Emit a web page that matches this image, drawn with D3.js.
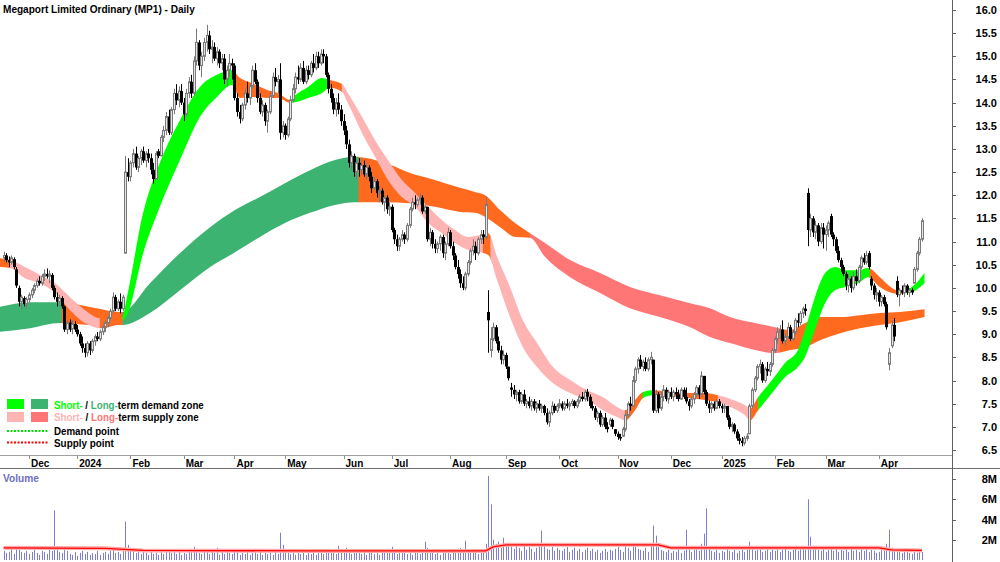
<!DOCTYPE html>
<html><head><meta charset="utf-8">
<script src="https://cdn.jsdelivr.net/npm/d3@7"></script>
<style>
body{margin:0;background:#fff}
svg{display:block}
text{font-family:"Liberation Sans",Arial,sans-serif;font-weight:bold}
</style>
</head><body>
<svg id="c" width="1000" height="562"></svg>
<script>
// ---------------- DATA ----------------
const startDate = "2023-11-17";
const holidays = ["2023-12-25","2023-12-26","2024-01-01","2024-01-26","2024-03-29","2024-04-01","2024-04-25","2024-06-10","2024-12-25","2024-12-26","2025-01-01","2025-01-27","2025-04-18","2025-04-21","2025-04-25"];
const monthNames = ["Jan","Feb","Mar","Apr","May","Jun","Jul","Aug","Sep","Oct","Nov","Dec"];
const priceTicks = [6.5,7.0,7.5,8.0,8.5,9.0,9.5,10.0,10.5,11.0,11.5,12.0,12.5,13.0,13.5,14.0,14.5,15.0,15.5,16.0];
const volumeTicks = [2,4,6,8];

const openP = [
10.65,10.70,10.60,10.55,10.62,10.40,10.00,9.70,9.78,9.65,
9.75,9.85,9.95,10.05,10.15,10.10,10.25,10.30,10.25,10.28,
10.00,9.80,9.70,9.78,9.60,9.10,9.25,9.12,9.22,9.10,
9.00,8.80,8.70,8.60,8.80,8.65,8.85,8.95,8.90,9.05,
9.15,9.25,9.35,9.50,9.80,9.55,9.70,9.55,10.75,12.50,
12.40,12.70,12.90,12.60,12.80,12.95,12.75,12.90,12.80,12.55,
12.35,12.95,12.85,13.25,13.40,13.70,13.35,13.85,14.20,14.05,
14.25,14.00,13.75,14.20,14.45,14.20,14.90,15.30,14.80,15.00,
15.30,15.45,15.15,15.20,14.95,15.10,14.85,14.95,14.50,14.70,
14.85,14.80,14.10,13.80,13.65,13.95,14.20,14.10,14.35,14.70,
14.45,14.10,13.80,13.95,13.60,13.80,14.15,14.55,14.45,14.50,
13.35,13.50,13.30,13.65,14.05,14.30,14.55,14.50,14.75,14.45,
14.70,14.60,14.85,14.75,15.00,14.85,15.05,15.00,14.60,14.30,
14.10,13.85,14.00,13.85,13.60,13.40,13.10,12.70,12.85,12.50,
12.70,12.55,12.65,12.45,12.60,12.40,12.15,12.30,12.05,12.10,
11.85,11.95,11.70,11.75,11.25,11.05,10.90,11.05,11.15,11.05,
11.35,11.70,11.85,11.80,11.90,11.95,11.65,11.75,11.05,11.20,
10.95,10.85,10.95,11.10,10.75,10.95,11.20,10.90,10.70,10.45,
10.30,10.10,10.00,10.30,10.55,10.80,10.90,10.75,11.05,11.15,
11.10,9.48,8.65,8.90,9.15,8.85,8.65,8.45,8.55,8.30,
7.85,7.80,7.70,7.75,7.55,7.70,7.50,7.55,7.45,7.55,
7.40,7.50,7.40,7.45,7.30,7.10,7.30,7.45,7.35,7.45,
7.50,7.40,7.50,7.45,7.50,7.55,7.45,7.55,7.65,7.60,
7.75,7.65,7.45,7.40,7.20,7.30,7.05,7.20,7.00,7.05,
7.15,6.95,6.85,6.78,6.80,6.95,7.25,7.50,7.45,8.00,
8.25,8.45,8.30,8.40,8.25,8.45,8.45,7.35,7.70,7.40,
7.65,7.80,7.60,7.75,7.65,7.75,7.70,7.60,7.80,7.65,
7.55,7.45,7.60,7.70,7.85,7.70,8.10,7.75,7.50,7.40,
7.50,7.40,7.55,7.45,7.40,7.45,7.20,7.00,7.05,6.90,
6.75,6.70,6.65,6.75,6.85,7.45,7.80,8.05,8.30,8.35,
8.00,8.25,8.20,8.35,8.65,8.90,9.05,9.10,8.85,8.95,
9.15,8.90,9.05,9.30,9.25,9.45,9.55,12.05,11.25,11.50,
11.20,11.35,11.00,11.30,11.15,11.25,11.55,11.15,11.05,10.80,
10.60,10.45,10.30,10.05,10.20,10.00,10.25,10.15,10.45,10.65,
10.55,10.75,10.20,10.05,9.85,9.90,9.70,9.80,9.65,8.35,
8.75,9.20,10.15,9.85,9.95,9.90,10.05,9.90,9.95,10.10,
10.40,10.75,11.05];

const highP = [
10.78,10.75,10.68,10.70,10.66,10.45,10.05,9.85,9.82,9.80,
9.90,10.00,10.10,10.20,10.25,10.30,10.40,10.42,10.38,10.32,
10.05,9.90,9.85,9.82,9.62,9.30,9.32,9.30,9.28,9.20,
9.05,8.95,8.80,8.85,8.85,8.90,9.00,9.05,9.10,9.20,
9.30,9.40,9.55,9.90,9.85,9.75,9.88,9.85,12.85,12.80,
12.75,13.00,13.05,12.85,13.00,13.05,12.95,13.00,12.90,12.70,
12.95,13.00,13.30,13.50,13.80,13.85,13.90,14.30,14.40,14.35,
14.40,14.10,14.30,14.55,14.60,15.00,15.60,15.35,15.10,15.40,
15.68,15.55,15.35,15.30,15.20,15.15,15.05,15.05,14.80,15.05,
14.95,14.85,14.20,13.95,14.00,14.30,14.45,14.40,14.80,14.85,
14.50,14.20,14.05,14.00,13.85,14.25,14.65,14.75,14.60,14.85,
13.60,13.55,13.70,14.15,14.40,14.65,14.80,14.85,14.90,14.80,
14.80,14.90,15.05,15.10,15.10,15.15,15.15,15.05,14.65,14.40,
14.20,14.10,14.20,13.95,13.75,13.50,13.20,12.95,12.90,12.75,
12.80,12.80,12.75,12.70,12.65,12.50,12.40,12.35,12.20,12.15,
12.00,12.00,11.85,11.80,11.30,11.15,11.10,11.25,11.20,11.40,
11.75,11.95,12.00,11.95,12.05,12.00,11.80,11.75,11.30,11.25,
11.05,11.00,11.15,11.15,11.00,11.30,11.25,11.00,10.75,10.60,
10.40,10.25,10.35,10.60,10.85,11.05,11.00,11.10,11.25,11.25,
11.97,9.95,9.15,9.25,9.20,8.95,8.75,8.65,8.60,8.30,
7.95,7.90,7.80,7.80,7.75,7.80,7.60,7.65,7.60,7.60,
7.55,7.58,7.50,7.48,7.40,7.35,7.55,7.50,7.50,7.60,
7.55,7.55,7.60,7.55,7.60,7.58,7.60,7.70,7.75,7.80,
7.82,7.70,7.55,7.45,7.35,7.35,7.25,7.30,7.10,7.20,
7.18,6.95,6.90,6.85,7.00,7.30,7.55,7.65,8.10,8.30,
8.50,8.55,8.45,8.50,8.50,8.62,8.45,7.80,7.75,7.75,
7.90,7.85,7.80,7.85,7.80,7.85,7.80,7.85,7.85,7.85,
7.60,7.65,7.75,7.90,7.90,8.20,8.10,7.80,7.57,7.55,
7.55,7.60,7.60,7.50,7.50,7.45,7.25,7.10,7.08,6.95,
6.85,6.78,6.80,6.86,7.50,7.85,8.10,8.35,8.45,8.40,
8.30,8.40,8.40,8.70,8.95,9.15,9.20,9.30,9.00,9.25,
9.20,9.10,9.35,9.45,9.50,9.60,9.65,12.15,11.60,11.55,
11.45,11.40,11.40,11.40,11.35,11.45,11.60,11.20,11.10,10.90,
10.65,10.50,10.35,10.30,10.25,10.35,10.40,10.50,10.70,10.75,
10.80,10.80,10.25,10.10,10.00,9.95,9.85,9.85,9.70,8.70,
9.30,9.35,10.25,10.00,10.05,10.10,10.08,10.00,10.00,10.45,
10.80,11.10,11.50];

const lowP = [
10.55,10.55,10.45,10.50,10.40,10.00,9.60,9.55,9.60,9.55,
9.68,9.78,9.88,10.00,10.05,10.05,10.15,10.20,10.10,9.95,
9.75,9.60,9.62,9.55,9.05,9.00,9.05,9.00,9.05,8.95,
8.75,8.60,8.50,8.52,8.55,8.60,8.75,8.85,8.85,8.98,
9.05,9.15,9.30,9.45,9.50,9.50,9.45,9.50,10.75,12.30,
12.30,12.60,12.55,12.50,12.65,12.70,12.60,12.70,12.45,12.25,
12.35,12.80,12.85,13.15,13.30,13.30,13.30,13.75,13.95,13.90,
13.95,13.60,13.70,14.10,14.10,14.15,14.80,14.70,14.55,14.90,
15.10,15.05,14.85,14.90,14.80,14.75,14.70,14.40,14.35,14.55,
14.50,14.05,13.70,13.55,13.60,13.85,14.00,13.95,14.30,14.40,
14.00,13.75,13.70,13.50,13.35,13.75,14.10,14.35,14.20,13.20,
13.25,13.20,13.25,13.60,14.00,14.20,14.40,14.45,14.40,14.40,
14.50,14.55,14.65,14.70,14.75,14.80,14.85,14.55,14.20,14.00,
13.75,13.70,13.75,13.50,13.30,13.00,12.60,12.55,12.40,12.35,
12.40,12.45,12.40,12.35,12.30,12.05,12.10,11.95,11.85,11.80,
11.65,11.60,11.55,11.20,10.95,10.80,10.80,11.00,10.95,11.00,
11.30,11.65,11.70,11.75,11.80,11.60,11.60,11.00,10.90,10.85,
10.75,10.75,10.80,10.65,10.60,10.90,10.85,10.60,10.40,10.20,
10.00,9.95,9.95,10.25,10.50,10.70,10.60,10.70,10.95,10.95,
11.05,8.60,8.50,8.85,8.80,8.60,8.35,8.35,8.25,8.00,
7.65,7.60,7.55,7.50,7.50,7.45,7.40,7.40,7.35,7.35,
7.30,7.35,7.30,7.25,7.05,7.00,7.25,7.30,7.30,7.40,
7.35,7.35,7.40,7.35,7.45,7.40,7.40,7.50,7.55,7.55,
7.55,7.40,7.35,7.15,7.10,7.00,7.00,6.95,6.88,7.00,
6.95,6.80,6.72,6.70,6.78,6.90,7.20,7.35,7.45,7.95,
8.15,8.25,8.20,8.20,8.20,8.35,7.30,7.30,7.30,7.35,
7.55,7.55,7.50,7.60,7.55,7.60,7.55,7.58,7.60,7.50,
7.35,7.40,7.50,7.65,7.60,7.65,7.70,7.45,7.30,7.30,
7.35,7.38,7.40,7.30,7.30,7.15,6.95,6.88,6.85,6.70,
6.62,6.58,6.60,6.70,6.85,7.40,7.75,8.00,8.15,7.95,
7.95,8.10,8.10,8.30,8.60,8.80,8.90,8.80,8.75,8.90,
8.85,8.85,9.00,9.15,9.20,9.35,9.40,10.90,11.10,11.10,
11.05,10.90,10.95,10.85,10.80,11.10,11.10,10.90,10.75,10.55,
10.35,10.25,9.95,9.90,9.90,9.95,10.05,10.10,10.40,10.50,
10.50,10.40,9.95,9.75,9.70,9.60,9.60,9.60,9.10,8.22,
8.70,8.85,9.80,9.60,9.85,9.80,9.85,9.80,9.85,10.10,
10.35,10.70,11.00];

const closeP = [
10.70,10.60,10.55,10.65,10.45,10.05,9.70,9.80,9.65,9.75,
9.85,9.95,10.05,10.15,10.10,10.25,10.30,10.25,10.30,10.00,
9.80,9.70,9.78,9.60,9.10,9.25,9.10,9.22,9.10,9.00,
8.80,8.70,8.60,8.80,8.65,8.85,8.95,8.90,9.05,9.15,
9.25,9.35,9.50,9.80,9.55,9.70,9.55,9.80,12.50,12.40,
12.70,12.90,12.60,12.80,12.95,12.75,12.90,12.80,12.55,12.35,
12.90,12.85,13.25,13.40,13.70,13.35,13.85,14.20,14.05,14.25,
14.00,13.75,14.20,14.45,14.20,14.90,15.30,14.80,15.00,15.30,
15.45,15.15,15.20,14.95,15.10,14.85,14.95,14.50,14.70,14.85,
14.80,14.10,13.80,13.65,13.95,14.20,14.10,14.35,14.70,14.45,
14.10,13.80,13.95,13.60,13.80,14.15,14.55,14.45,14.50,13.35,
13.50,13.30,13.65,14.05,14.30,14.55,14.50,14.75,14.45,14.70,
14.60,14.85,14.75,15.00,14.85,15.05,15.00,14.60,14.30,14.10,
13.85,14.00,13.85,13.60,13.40,13.10,12.70,12.85,12.50,12.70,
12.55,12.65,12.45,12.60,12.40,12.15,12.30,12.05,12.10,11.85,
11.95,11.70,11.75,11.25,11.05,10.90,11.05,11.15,11.05,11.35,
11.70,11.85,11.80,11.90,11.95,11.65,11.75,11.05,11.20,10.95,
10.85,10.95,11.10,10.75,10.95,11.20,10.90,10.70,10.45,10.30,
10.10,10.00,10.30,10.55,10.80,10.90,10.75,11.05,11.15,11.10,
11.80,9.30,8.90,9.15,8.85,8.65,8.45,8.55,8.30,8.05,
7.80,7.70,7.75,7.55,7.70,7.50,7.55,7.45,7.55,7.40,
7.50,7.40,7.45,7.30,7.10,7.30,7.45,7.35,7.45,7.50,
7.40,7.50,7.45,7.50,7.55,7.45,7.55,7.65,7.60,7.75,
7.65,7.45,7.40,7.20,7.30,7.05,7.20,7.00,6.95,7.15,
7.00,6.85,6.78,6.75,6.95,7.25,7.50,7.45,8.00,8.25,
8.45,8.30,8.40,8.25,8.45,8.50,7.35,7.70,7.40,7.65,
7.80,7.60,7.75,7.65,7.75,7.70,7.60,7.80,7.65,7.55,
7.45,7.60,7.70,7.85,7.70,8.10,7.75,7.50,7.40,7.50,
7.40,7.55,7.45,7.40,7.45,7.20,7.00,7.05,6.90,6.75,
6.70,6.65,6.75,6.80,7.45,7.80,8.05,8.30,8.35,8.00,
8.25,8.20,8.35,8.65,8.90,9.05,9.10,8.85,8.95,9.15,
8.90,9.05,9.30,9.25,9.45,9.55,9.50,11.25,11.50,11.20,
11.35,11.00,11.30,11.15,11.25,11.40,11.15,11.05,10.80,10.60,
10.45,10.30,10.05,10.20,10.00,10.25,10.15,10.45,10.65,10.55,
10.70,10.45,10.05,9.85,9.90,9.70,9.80,9.65,9.15,8.60,
9.20,8.95,9.85,9.95,9.90,10.05,9.90,9.95,9.90,10.40,
10.75,11.05,11.45];

// daily volume, millions
const volumeM = [
0.9,0.7,0.8,1.1,0.6,1.2,1.0,0.8,0.7,0.9,
0.6,0.8,1.0,0.7,0.5,0.9,0.8,0.6,1.1,0.9,
4.9,1.0,0.8,0.7,1.3,0.9,0.6,0.5,0.8,0.4,
0.7,0.9,0.6,0.8,0.5,0.7,0.6,0.9,0.5,0.7,
0.8,0.6,0.9,1.0,0.7,0.8,0.6,0.9,3.8,1.5,
1.2,0.9,0.7,0.8,0.6,0.9,0.7,0.5,0.8,0.6,
0.7,0.5,0.9,0.6,0.8,1.0,0.7,0.9,0.6,0.8,
0.5,0.7,0.6,1.1,0.8,1.3,0.9,0.7,0.6,1.0,
0.8,0.6,0.9,0.7,1.2,0.5,0.8,0.6,0.9,0.7,
0.6,0.9,0.8,0.5,0.7,0.6,0.8,0.5,0.7,0.9,
0.6,0.8,0.5,0.7,0.6,0.9,0.5,0.8,0.6,2.7,
1.5,0.9,0.7,0.6,0.8,0.5,0.7,0.6,0.9,0.5,
0.7,0.6,0.8,0.5,0.9,0.7,0.6,0.8,1.1,0.7,
0.9,0.6,1.4,0.8,0.7,1.2,0.9,0.6,1.0,0.7,
0.8,0.6,0.9,0.5,0.7,1.0,0.6,0.8,0.5,0.9,
0.7,1.1,0.8,1.3,0.9,0.6,0.8,0.7,1.0,0.6,
0.8,0.5,0.7,0.9,0.6,1.0,1.8,1.2,0.8,0.7,
0.6,0.9,0.5,0.8,1.1,0.7,0.6,0.9,1.0,0.8,
1.2,0.9,1.9,1.0,0.8,0.7,0.9,0.6,0.8,1.1,
1.6,8.3,5.5,2.0,1.6,1.8,1.2,2.2,1.4,1.7,
1.3,1.1,1.5,1.2,0.9,1.4,1.0,1.3,1.1,0.8,
1.2,1.5,2.9,1.4,1.1,1.0,1.3,0.9,1.2,1.0,
0.9,1.1,1.3,0.8,1.0,1.2,0.9,1.1,0.8,1.0,
1.2,0.9,1.1,0.8,1.0,0.7,0.9,1.1,0.8,1.0,
0.9,1.1,1.3,1.0,0.8,1.4,1.2,0.9,1.6,1.3,
1.1,1.0,0.9,1.2,0.8,1.5,3.4,2.4,1.3,1.0,
0.9,0.8,1.0,0.7,0.9,0.8,1.1,0.7,0.9,3.0,
1.2,0.8,1.0,1.3,0.9,1.6,2.6,5.1,1.2,0.9,
0.8,1.0,0.7,0.9,0.8,1.1,0.9,0.8,1.0,0.7,
0.9,1.0,0.8,1.2,1.8,1.1,0.9,1.0,1.2,0.8,
0.9,1.1,0.8,1.0,0.9,1.2,0.8,1.0,1.1,0.9,
0.8,1.0,1.2,0.9,1.1,1.3,1.0,6.0,2.3,1.4,
1.2,1.0,0.9,1.3,0.8,1.0,1.1,0.9,1.2,0.8,
1.0,0.9,1.1,0.8,1.3,0.9,1.0,0.8,1.2,0.9,
1.1,0.8,1.0,0.9,0.7,0.8,1.0,0.9,1.6,3.0,
1.2,1.0,1.1,0.8,0.7,0.9,0.8,0.7,0.6,0.8,
0.7,0.9,0.8];

// volume average line (read at sample days), millions
const volAvgDay = [0,40,55,120,190,193,198,258,263,345,350,362];
const volAvgM   = [1.2,1.15,0.95,0.9,0.9,1.3,1.5,1.5,1.2,1.2,1.0,0.95];

// long-term zone edges (sample day index, top, bottom)
const longDay = [-1.5,10.4,22.2,34,46.7,57.7,69.5,81.4,91.2,101,110.9,120.8,130.6,138.5,150.3,160.2,170,179.9,185.8,189.8,195.7,201.6,207.5,213.4,223.3,235.1,246.9,258.7,270.6,278.4,286.3,296.2,304,310,315.9,321.8,329.7,337.6,345.4,353.3,363];
const longTop = [9.59,9.69,9.69,9.59,9.48,10.10,10.75,11.31,11.68,11.96,12.26,12.54,12.76,12.83,12.70,12.48,12.33,12.16,12.07,12.00,11.68,11.40,11.18,10.97,10.60,10.32,10.02,9.84,9.67,9.56,9.37,9.24,9.15,9.09,9.24,9.37,9.37,9.41,9.46,9.48,9.54];
const longBot = [9.05,9.13,9.24,9.20,9.20,9.46,9.95,10.45,10.77,11.10,11.40,11.62,11.79,11.85,11.85,11.83,11.75,11.64,11.62,11.53,11.31,11.10,11.08,10.67,10.23,9.89,9.56,9.37,9.15,8.94,8.81,8.66,8.59,8.66,8.72,8.87,9.02,9.13,9.20,9.26,9.37];
const longStateFrom = [-2,23,47,140,207.5,306];
const longState = ["demand","neutral","demand","neutral","supply","neutral"];

// short-term zone edges
const shortDay = [-1.5,2.5,8.4,14.3,20.3,26.2,32.1,38,42.7,46.7,48.6,55,61.6,69.5,77.4,84.1,90,93.2,98,104.2,108.2,112.9,114.9,120,125.5,128.6,133.4,135.7,141.3,146.4,151.5,157,162.2,167.3,172.8,177.9,183,187.8,191,194.5,199.6,204.7,210.3,216.6,223.3,230,236.3,241.8,245,248.9,252,256,262.7,270.6,276.5,281.6,287.5,292.2,294.2,297.4,302.9,308,313.1,315.9,319.8,323.8,327.7,331.7,336.8,340.7,345.4,350.2,353.3,358,363];
const shortTop = [10.64,10.60,10.45,10.28,10.10,9.80,9.52,9.35,9.35,9.36,9.80,11.62,12.70,13.62,14.34,14.60,14.70,14.53,14.42,14.27,14.21,14.06,14.16,14.34,14.53,14.49,14.40,14.21,13.69,13.19,12.76,12.33,12.05,11.75,11.46,11.25,11.10,11.14,11.18,10.67,10.02,9.30,8.81,8.29,8.01,7.79,7.64,7.43,7.36,7.58,7.75,7.79,7.75,7.73,7.73,7.68,7.58,7.47,7.40,7.64,8.01,8.38,8.66,9.09,9.80,10.32,10.45,10.38,10.38,10.43,10.23,10.00,9.93,10.02,10.32];
const shortBot = [10.45,10.43,10.21,10.10,9.89,9.52,9.24,9.13,9.17,9.28,9.40,10.75,11.75,12.76,13.69,14.12,14.38,14.10,14.12,14.10,14.10,14.00,14.01,14.10,14.21,14.32,14.23,13.99,13.34,12.83,12.33,11.96,11.75,11.40,11.18,10.97,10.82,10.77,10.71,10.17,9.37,8.72,8.29,7.94,7.73,7.58,7.36,7.21,7.14,7.36,7.62,7.68,7.66,7.62,7.58,7.53,7.40,7.25,7.14,7.36,7.73,8.07,8.29,8.51,9.09,9.67,9.95,10.02,10.10,10.23,10.02,9.89,9.87,9.91,10.10];
const shortStateFrom = [-2,2.5,38,47,90.5,113,128.6,133.4,189,192,245,252,256,281.6,294,297.5,341.5,355];
const shortState = ["neutral","supply","neutral","demand","neutral","demand","neutral","supply","neutral","supply","neutral","demand","neutral","supply","neutral","demand","neutral","demand"];

// ---------------- CHART ----------------
const svg = d3.select("#c");
const defs = svg.append("defs");
const N = closeP.length;

// trading days
const hol = new Set(holidays);
const dates = [];
{
  const d = new Date(startDate + "T00:00:00Z");
  while (dates.length < N) {
    const wd = d.getUTCDay(), s = d.toISOString().slice(0,10);
    if (wd !== 0 && wd !== 6 && !hol.has(s)) dates.push(new Date(d));
    d.setUTCDate(d.getUTCDate() + 1);
  }
}

const x = d3.scaleLinear().domain([0, N-1]).range([3.6, 3.6 + (N-1)*2.537]);
const y = d3.scaleLinear().domain([6.5, 16]).range([450, 10]);
const yv = d3.scaleLinear().domain([0, 8]).range([560, 479]);

const zoneColor = {
  short: {demand:"#00ff00", supply:"#ffb4b4", neutral:"#ff6a1e"},
  long:  {demand:"#3cb371", supply:"#ff7676", neutral:"#ff6a1e"}
};

const bandG = svg.append("g");
let clipId = 0;
function drawZone(kind, days, top, bot, from, states) {
  const pts = days.map((v,k)=>({i:v, t:top[k], b:bot[k]}));
  const area = d3.area().x(d=>x(d.i)).y0(d=>y(d.b)).y1(d=>y(d.t)).curve(d3.curveMonotoneX);
  const dPath = area(pts);
  from.forEach((s,k)=>{
    const e = k < from.length-1 ? from[k+1] : 365;
    const id = "clp" + (clipId++);
    const x0 = x(s), x1 = x(e);
    defs.append("clipPath").attr("id", id).append("rect")
      .attr("x", x0 - 0.25).attr("y", 0).attr("width", x1 - x0 + 0.5).attr("height", 455);
    bandG.append("path").attr("d", dPath)
      .attr("fill", zoneColor[kind][states[k]])
      .attr("clip-path", `url(#${id})`);
  });
}
drawZone("long", longDay, longTop, longBot, longStateFrom, longState);
drawZone("short", shortDay, shortTop, shortBot, shortStateFrom, shortState);

// candles
const cg = svg.append("g");
const idx = d3.range(N);
cg.selectAll("line.w").data(idx).join("line")
  .attr("x1", i=>Math.round(x(i))+0.5).attr("x2", i=>Math.round(x(i))+0.5)
  .attr("y1", i=>y(highP[i])).attr("y2", i=>y(lowP[i]))
  .attr("stroke", i=> closeP[i] >= openP[i] ? "#7a7a7a" : "#000")
  .attr("stroke-width", 1);
cg.selectAll("rect.b").data(idx).join("rect")
  .attr("x", i=> closeP[i] >= openP[i] ? Math.round(x(i))-0.5 : Math.round(x(i))-1)
  .attr("width", i=> closeP[i] >= openP[i] ? 2 : 3)
  .attr("y", i=> y(Math.max(openP[i], closeP[i])))
  .attr("height", i=> Math.max(1, Math.abs(y(openP[i]) - y(closeP[i]))))
  .attr("fill", i=> closeP[i] >= openP[i] ? "#e4e4e4" : "#000")
  .attr("stroke", i=> closeP[i] >= openP[i] ? "#7a7a7a" : "none")
  .attr("stroke-width", 1);

// volume
const vg = svg.append("g");
vg.selectAll("line").data(idx).join("line")
  .attr("x1", i=>Math.round(x(i))+0.5).attr("x2", i=>Math.round(x(i))+0.5)
  .attr("y1", yv(0)).attr("y2", i=>yv(volumeM[i]))
  .attr("stroke", "#7f7fd2").attr("stroke-width", 1);
const avgPts = volAvgDay.map((d,k)=>[x(d), yv(volAvgM[k])]);
const lineGen = d3.line();
vg.append("path").attr("d", lineGen(avgPts)).attr("fill","none").attr("stroke","#ffaaaa").attr("stroke-width",4);
vg.append("path").attr("d", lineGen(avgPts)).attr("fill","none").attr("stroke","#ff0000").attr("stroke-width",1.3);

// frame lines
const fg = svg.append("g");
fg.append("line").attr("x1",0).attr("x2",952).attr("y1",455.5).attr("y2",455.5).attr("stroke","#a0a0a0");
fg.append("line").attr("x1",0).attr("x2",1000).attr("y1",468.5).attr("y2",468.5).attr("stroke","#707070");
fg.append("line").attr("x1",952.5).attr("x2",952.5).attr("y1",0).attr("y2",562).attr("stroke","#606060");

// price axis
priceTicks.forEach(v=>{
  const yy = Math.round(y(v)) + 0.5;
  fg.append("line").attr("x1",953).attr("x2",956).attr("y1",yy).attr("y2",yy).attr("stroke","#606060");
  fg.append("text").attr("x",997).attr("y",y(v)+4).attr("text-anchor","end")
    .attr("font-size","11px").attr("fill","#000").text(v.toFixed(1));
});
// volume axis
volumeTicks.forEach(v=>{
  const yy = Math.round(yv(v)) + 0.5;
  fg.append("line").attr("x1",953).attr("x2",956).attr("y1",yy).attr("y2",yy).attr("stroke","#606060");
  fg.append("text").attr("x",997).attr("y",yv(v)+4).attr("text-anchor","end")
    .attr("font-size","11px").attr("fill","#000").text(v + "M");
});

// month axis
for (let i = 1; i < N; i++) {
  if (dates[i].getUTCMonth() !== dates[i-1].getUTCMonth()) {
    const m = dates[i].getUTCMonth();
    const lab = m === 0 ? String(dates[i].getUTCFullYear()) : monthNames[m];
    const xx = Math.round(x(i)) + 0.5;
    fg.append("line").attr("x1",xx).attr("x2",xx).attr("y1",455.5).attr("y2",459).attr("stroke","#909090");
    fg.append("text").attr("x", x(i)+2).attr("y",466.5).attr("font-size","10px").attr("fill","#000").text(lab);
  }
}

// condensed text helper
function fitText(sel, tx, ty, width) {
  const len = sel.node().getComputedTextLength();
  sel.attr("x",0).attr("y",0).attr("transform", `translate(${tx},${ty}) scale(${width/len},1)`);
}

// title
fitText(svg.append("text").attr("font-size","11.5px").attr("fill","#000")
  .text("Megaport Limited Ordinary (MP1) - Daily"), 3, 12.5, 192);

// volume label
fitText(svg.append("text").attr("font-size","11px").attr("fill","#7070c0").text("Volume"), 3, 482, 36);

// legend
const lg = svg.append("g");
lg.append("rect").attr("x",7).attr("y",399).attr("width",17).attr("height",10).attr("fill",zoneColor.short.demand);
lg.append("rect").attr("x",31).attr("y",399).attr("width",17).attr("height",10).attr("fill",zoneColor.long.demand);
lg.append("rect").attr("x",7).attr("y",412).attr("width",17).attr("height",10).attr("fill",zoneColor.short.supply);
lg.append("rect").attr("x",31).attr("y",412).attr("width",17).attr("height",10).attr("fill",zoneColor.long.supply);
lg.append("line").attr("x1",7).attr("x2",48).attr("y1",431).attr("y2",431).attr("stroke","#00dd00").attr("stroke-width",2).attr("stroke-dasharray","2,1.5");
lg.append("line").attr("x1",7).attr("x2",48).attr("y1",442.5).attr("y2",442.5).attr("stroke","#ff0000").attr("stroke-width",2).attr("stroke-dasharray","2,1.5");

function legendText(parts, ty, width) {
  const t = lg.append("text").attr("font-size","11.5px");
  parts.forEach(p=> t.append("tspan").attr("fill", p[1]).text(p[0]));
  fitText(t, 54, ty, width);
}
legendText([["Short-", zoneColor.short.demand],[" / ","#000"],["Long-", zoneColor.long.demand],["term demand zone","#000"]], 408.5, 150);
legendText([["Short-", zoneColor.short.supply],[" / ","#000"],["Long-", zoneColor.long.supply],["term supply zone","#000"]], 421, 145);
legendText([["Demand point","#000"]], 434.5, 65);
legendText([["Supply point","#000"]], 446.5, 60);
</script>
</body></html>
